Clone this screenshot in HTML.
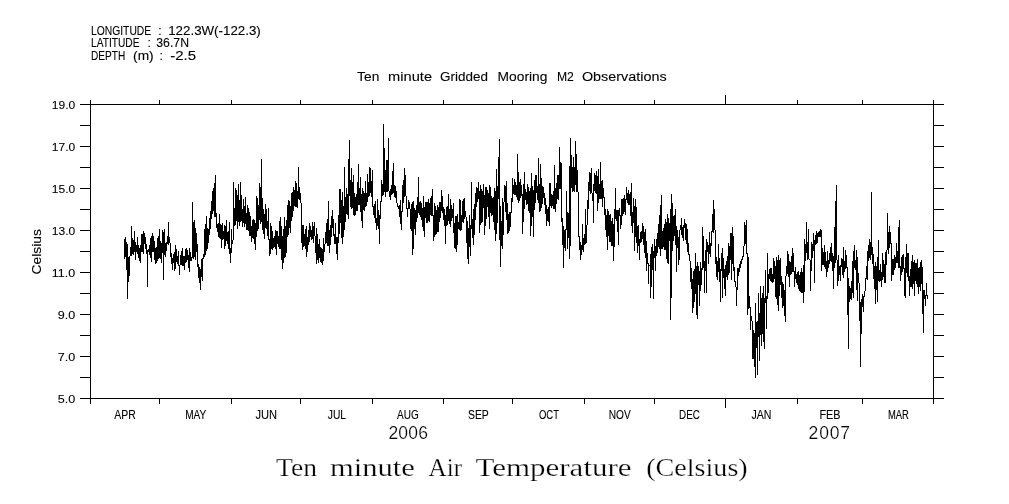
<!DOCTYPE html>
<html><head><meta charset="utf-8"><title>Ten minute Air Temperature (Celsius)</title>
<style>
html,body{margin:0;padding:0;background:#fff;}
svg{display:block;}
text{font-family:"Liberation Sans",sans-serif;fill:#000;white-space:pre;}
.ax,.mo,.hd,.tt,.yl{stroke:#000;stroke-width:0.1px;}
.ax{font-size:11.6px;}
.mo{font-size:12.2px;}
.hd{font-size:12px;}
.tt{font-size:13.7px;}
.yl{font-size:13.6px;}
.yr{font-size:17.5px;stroke:#fff;stroke-width:0.2px;}
.big{font-family:"Liberation Serif",serif;font-size:25.2px;stroke:#fff;stroke-width:0.25px;}
</style></head>
<body>
<svg width="1009" height="504" viewBox="0 0 1009 504">
<rect width="1009" height="504" fill="#fff"/>
<g fill="none" stroke="#000" stroke-width="1" shape-rendering="crispEdges">
<path d="M80 104.5H944M80 398.5H944M90.5 100V404M933.5 100V404M159.5 100V105M159.5 398V404M231.5 100V105M231.5 398V404M300.5 100V105M300.5 398V404M372.5 100V105M372.5 398V404M443.5 100V105M443.5 398V404M512.5 100V105M512.5 398V404M584.5 100V105M584.5 398V404M654.5 100V105M654.5 398V404M725.5 95V105M725.5 398V408M797.5 100V105M797.5 398V404M862.5 100V105M862.5 398V404M80 104.5H91M933 104.5H944M80 125.5H91M933 125.5H944M80 146.5H91M933 146.5H944M80 167.5H91M933 167.5H944M80 188.5H91M933 188.5H944M80 209.5H91M933 209.5H944M80 230.5H91M933 230.5H944M80 251.5H91M933 251.5H944M80 272.5H91M933 272.5H944M80 293.5H91M933 293.5H944M80 314.5H91M933 314.5H944M80 335.5H91M933 335.5H944M80 356.5H91M933 356.5H944M80 377.5H91M933 377.5H944M80 398.5H91M933 398.5H944"/>
<path transform="translate(0.5,0)" d="M124 239v20M125 237v20M126 242v28M127 244v55M128 257v25M129 256v20M130 247v9M131 226v30M132 238v16M133 240v15M134 231v21M135 242v18M136 245v7M137 237v17M138 245v13M139 248v13M140 245v18M141 234v18M142 234v18M143 231v23M144 233v11M145 237v12M146 244v10M147 250v37M148 249v3M149 245v10M150 238v20M151 236v26M152 233v19M153 236v16M154 241v19M155 248v16M156 247v16M157 238v23M158 236v23M159 229v29M160 241v18M161 243v20M162 230v23M163 232v48M164 229v26M165 243v14M166 242v9M167 236v8M168 222v23M169 237v6M170 243v14M171 253v11M172 258v12M173 254v9M174 252v19M175 245v24M176 249v13M177 256v8M178 251v15M179 265v10M180 255v10M181 251v14M182 248v18M183 256v10M184 256v14M185 249v14M186 248v14M187 250v10M188 255v13M189 248v24M190 252v9M191 257v4M192 202v56M193 222v37M194 220v37M195 228v32M196 233v19M197 244v23M198 264v14M199 267v16M200 269v21M201 259v18M202 258v23M203 254v5M204 229v28M205 224v31M206 216v35M207 228v21M208 229v14M209 218v17M210 211v18M211 201v18M212 191v23M213 188v23M214 183v34M215 175v42M216 213v15M217 224v8M218 223v14M219 214v24M220 224v15M221 225v23M222 223v17M223 231v8M224 225v24M225 226v20M226 220v21M227 232v12M228 231v18M229 222v32M230 248v15M231 229v24M232 240v4M233 182v58M234 208v18M235 188v37M236 190v31M237 195v34M238 184v38M239 200v26M240 182v40M241 195v26M242 209v18M243 199v24M244 206v21M245 197v27M246 213v17M247 205v25M248 208v23M249 212v24M250 216v20M251 226v16M252 220v18M253 219v20M254 220v24M255 223v27M256 196v41M257 198v33M258 205v24M259 183v37M260 187v37M261 159v63M262 198v32M263 209v25M264 214v25M265 204v24M266 209v20M267 221v15M268 208v32M269 239v17M270 223v31M271 226v23M272 231v19M273 238v10M274 236v11M275 230v19M276 231v24M277 231v13M278 236v11M279 221v28M280 217v32M281 226v34M282 236v33M283 229v34M284 217v41M285 226v31M286 220v33M287 205v32M288 200v35M289 201v27M290 206v27M291 193v28M292 192v25M293 187v24M294 190v16M295 181v26M296 183v24M297 191v17M298 167v32M299 187v13M300 193v10M301 203v40M302 225v25M303 225v22M304 234v12M305 229v20M306 226v31M307 237v15M308 230v15M309 223v19M310 226v11M311 230v10M312 222v17M313 226v17M314 222v14M315 236v17M316 228v36M317 234v26M318 244v19M319 239v19M320 247v15M321 248v15M322 249v16M323 238v23M324 244v8M325 232v12M326 223v20M327 219v27M328 201v45M329 230v23M330 225v20M331 216v21M332 210v18M333 219v17M334 234v10M335 223v21M336 237v17M337 237v23M338 215v28M339 189v45M340 189v34M341 200v38M342 192v52M343 206v31M344 167v63M345 197v25M346 188v26M347 194v21M348 159v60M349 140v56M350 180v27M351 168v41M352 182v26M353 175v40M354 193v23M355 197v18M356 194v17M357 182v29M358 164v41M359 188v17M360 177v35M361 194v27M362 188v40M363 191v19M364 193v18M365 181v26M366 193v13M367 174v28M368 182v15M369 167v29M370 168v25M371 181v16M372 170v37M373 206v9M374 204v14M375 201v22M376 218v12M377 199v27M378 210v19M379 215v29M380 201v18M381 180v22M382 184v12M383 124v71M384 148v44M385 170v27M386 160v32M387 160v32M388 138v53M389 191v6M390 189v11M391 185v10M392 171v23M393 163v30M394 185v12M395 186v12M396 191v12M397 203v4M398 206v3M399 205v12M400 200v24M401 211v19M402 185v27M403 180v23M404 168v29M405 175v21M406 196v13M407 208v9M408 200v9M409 202v7M410 209v20M411 204v27M412 202v53M413 201v48M414 208v21M415 210v25M416 205v17M417 197v21M418 177v36M419 202v13M420 201v16M421 203v17M422 208v19M423 196v35M424 207v30M425 202v16M426 202v21M427 202v21M428 199v22M429 203v19M430 198v17M431 196v20M432 189v27M433 215v26M434 203v34M435 206v29M436 210v24M437 205v27M438 207v25M439 202v20M440 202v16M441 190v21M442 196v17M443 207v13M444 209v17M445 215v29M446 207v19M447 206v19M448 194v27M449 209v15M450 199v28M451 205v16M452 209v9M453 203v30M454 223v25M455 216v33M456 216v36M457 214v31M458 222v7M459 199v31M460 200v31M461 215v15M462 201v21M463 199v24M464 198v21M465 211v6M466 217v26M467 221v38M468 228v36M469 215v32M470 225v31M471 182v47M472 219v19M473 209v36M474 204v31M475 193v27M476 187v20M477 188v14M478 182v17M479 191v42M480 185v40M481 189v34M482 191v31M483 184v24M484 195v40M485 187v39M486 187v32M487 190v17M488 193v24M489 185v44M490 187v26M491 196v20M492 198v17M493 197v25M494 188v42M495 191v50M496 169v65M497 186v37M498 157v42M499 139v101M500 206v61M501 221v25M502 198v51M503 202v33M504 185v17M505 186v26M506 181v39M507 203v31M508 214v19M509 212v19M510 212v15M511 198v15M512 178v24M513 185v9M514 179v16M515 182v13M516 185v12M517 154v46M518 172v31M519 182v19M520 179v19M521 185v11M522 194v40M523 184v38M524 172v37M525 189v11M526 192v13M527 184v20M528 187v24M529 191v22M530 188v48M531 173v53M532 186v31M533 190v47M534 180v30M535 175v28M536 175v18M537 186v14M538 158v45M539 184v28M540 164v47M541 178v30M542 186v18M543 187v11M544 193v12M545 198v16M546 205v21M547 209v12M548 207v15M549 183v43M550 183v23M551 194v14M552 195v11M553 191v18M554 165v44M555 188v24M556 183v21M557 175v24M558 175v25M559 147v42M560 162v27M561 163v59M562 218v27M563 226v42M564 230v18M565 229v22M566 191v39M567 212v37M568 213v25M569 166v93M570 138v108M571 155v33M572 167v25M573 157v34M574 167v25M575 141v44M576 154v38M577 170v22M578 192v45M579 236v14M580 242v18M581 245v10M582 224v26M583 238v14M584 234v11M585 209v35M586 225v18M587 200v25M588 182v27M589 172v19M590 173v21M591 168v25M592 193v8M593 184v39M594 173v18M595 175v18M596 171v23M597 176v35M598 169v34M599 184v15M600 162v37M601 181v18M602 180v27M603 188v10M604 197v18M605 209v21M606 215v22M607 209v41M608 211v25M609 215v27M610 214v28M611 221v25M612 218v28M613 224v37M614 209v38M615 188v31M616 210v11M617 210v22M618 210v35M619 208v8M620 215v14M621 199v26M622 199v17M623 198v16M624 195v17M625 199v16M626 187v13M627 193v10M628 190v15M629 194v11M630 192v24M631 183v43M632 212v21M633 198v25M634 206v45M635 199v38M636 207v36M637 226v27M638 225v21M639 239v21M640 232v11M641 231v11M642 223v16M643 226v19M644 232v21M645 229v29M646 241v30M647 253v11M648 263v21M649 265v1M650 254v44M651 247v40M652 244v26M653 251v48M654 239v19M655 246v25M656 239v17M657 233v20M658 224v23M659 215v34M660 205v51M661 195v54M662 231v18M663 228v19M664 224v26M665 219v31M666 222v37M667 214v49M668 218v46M669 223v18M670 209v111M671 194v104M672 203v48M673 216v25M674 215v21M675 209v36M676 226v46M677 230v18M678 237v28M679 230v30M680 225v5M681 218v17M682 227v11M683 225v16M684 219v9M685 223v17M686 224v20M687 229v23M688 243v12M689 254v7M690 261v21M691 268v21M692 279v34M693 271v37M694 269v33M695 253v41M696 266v49M697 262v57M698 266v19M699 271v35M700 262v29M701 268v17M702 227v43M703 236v32M704 261v32M705 250v21M706 239v54M707 242v10M708 245v19M709 232v22M710 243v14M711 231v15M712 214v18M713 200v33M714 209v21M715 230v34M716 257v20M717 261v19M718 244v28M719 258v24M720 269v33M721 253v18M722 248v50M723 258v20M724 269v20M725 265v31M726 261v16M727 256v24M728 243v32M729 246v27M730 233v27M731 233v47M732 227v37M733 236v35M734 267v15M735 281v6M736 287v19M737 268v22M738 268v8M739 264v8M740 261v7M741 259v5M742 256v4M743 246v11M744 222v24M745 225v19M746 220v34M747 253v62M748 257v52M749 296v12M750 307v23M751 316v5M752 321v38M753 330v29M754 333v34M755 303v75M756 322v26M757 321v54M758 293v44M759 313v48M760 286v49M761 298v48M762 293v41M763 286v56M764 298v51M765 270v33M766 296v33M767 253v46M768 274v19M769 269v10M770 268v13M771 268v14M772 274v9M773 258v24M774 261v18M775 266v31M776 257v42M777 260v45M778 255v56M779 260v36M780 258v27M781 276v22M782 282v26M783 284v22M784 290v26M785 276v46M786 266v10M787 251v23M788 254v23M789 261v26M790 262v13M791 256v18M792 248v24M793 253v19M794 271v16M795 267v12M796 274v9M797 272v13M798 271v18M799 275v16M800 272v20M801 268v25M802 272v21M803 265v38M804 239v53M805 244v17M806 222v31M807 242v18M808 229v30M809 259v1M810 260v31M811 242v29M812 244v14M813 233v18M814 240v43M815 235v10M816 231v13M817 233v10M818 232v5M819 231v6M820 229v8M821 230v41M822 248v17M823 252v13M824 245v22M825 252v17M826 261v16M827 251v21M828 260v8M829 253v11M830 247v14M831 243v19M832 253v18M833 256v33M834 227v41M835 201v62M836 185v75M837 260v26M838 255v26M839 266v9M840 265v16M841 258v9M842 259v16M843 247v31M844 261v11M845 250v19M846 255v13M847 267v48M848 278v71M849 286v16M850 288v11M851 281v19M852 261v32M853 251v47M854 245v23M855 260v10M856 250v40M857 257v44M858 273v10M859 283v38M860 302v65M861 299v35M862 294v13M863 296v16M864 291v6M865 278v13M866 266v13M867 251v29M868 245v16M869 239v19M870 242v18M871 192v63M872 247v17M873 254v25M874 266v23M875 262v42M876 266v24M877 257v45M878 240v41M879 270v12M880 264v17M881 272v15M882 253v27M883 260v17M884 264v19M885 252v31M886 250v15M887 213v37M888 232v22M889 226v22M890 232v12M891 243v38M892 259v16M893 259v16M894 255v15M895 257v11M896 243v20M897 251v12M898 227v41M899 220v48M900 266v15M901 257v18M902 255v17M903 254v15M904 268v28M905 257v41M906 244v29M907 253v24M908 253v28M909 276v20M910 269v18M911 261v26M912 255v34M913 262v22M914 260v36M915 263v18M916 263v21M917 259v28M918 268v26M919 267v20M920 262v29M921 260v24M922 267v47M923 290v43M924 290v9M925 295v11M926 283v13M927 295v4"/>
</g>
<text y="35" class="hd"><tspan x="91" textLength="60.2" lengthAdjust="spacingAndGlyphs">LONGITUDE</tspan><tspan x="158.2" textLength="3.4" lengthAdjust="spacingAndGlyphs">:</tspan><tspan x="168.2" textLength="92.6" lengthAdjust="spacingAndGlyphs">122.3W(-122.3)</tspan></text>
<text y="47.4" class="hd"><tspan x="91" textLength="48.5" lengthAdjust="spacingAndGlyphs">LATITUDE</tspan><tspan x="147.4" textLength="3.4" lengthAdjust="spacingAndGlyphs">:</tspan><tspan x="156.3" textLength="32.7" lengthAdjust="spacingAndGlyphs">36.7N</tspan></text>
<text y="59.9" class="hd"><tspan x="91" textLength="34.2" lengthAdjust="spacingAndGlyphs">DEPTH</tspan><tspan x="133.1" textLength="20.6" lengthAdjust="spacingAndGlyphs">(m)</tspan><tspan x="159.4" textLength="3.4" lengthAdjust="spacingAndGlyphs">:</tspan><tspan x="170.2" textLength="25.8" lengthAdjust="spacingAndGlyphs">-2.5</tspan></text>
<text y="80.6" class="tt"><tspan x="357.1" textLength="22.2" lengthAdjust="spacingAndGlyphs">Ten</tspan><tspan x="388.1" textLength="44" lengthAdjust="spacingAndGlyphs">minute</tspan><tspan x="440.1" textLength="47.9" lengthAdjust="spacingAndGlyphs">Gridded</tspan><tspan x="497.6" textLength="49.8" lengthAdjust="spacingAndGlyphs">Mooring</tspan><tspan x="556.9" textLength="16.9" lengthAdjust="spacingAndGlyphs">M2</tspan><tspan x="581.9" textLength="84.7" lengthAdjust="spacingAndGlyphs">Observations</tspan></text>
<text x="51.8" y="109" class="ax" textLength="23.4" lengthAdjust="spacingAndGlyphs">19.0</text><text x="51.8" y="151" class="ax" textLength="23.4" lengthAdjust="spacingAndGlyphs">17.0</text><text x="51.8" y="193" class="ax" textLength="23.4" lengthAdjust="spacingAndGlyphs">15.0</text><text x="51.8" y="235" class="ax" textLength="23.4" lengthAdjust="spacingAndGlyphs">13.0</text><text x="51.8" y="277" class="ax" textLength="23.4" lengthAdjust="spacingAndGlyphs">11.0</text><text x="57.7" y="319" class="ax" textLength="17.5" lengthAdjust="spacingAndGlyphs">9.0</text><text x="57.7" y="361" class="ax" textLength="17.5" lengthAdjust="spacingAndGlyphs">7.0</text><text x="57.7" y="403" class="ax" textLength="17.5" lengthAdjust="spacingAndGlyphs">5.0</text>
<text x="114.2" y="418.9" class="mo" textLength="21.5" lengthAdjust="spacingAndGlyphs">APR</text><text x="185.2" y="418.9" class="mo" textLength="21.1" lengthAdjust="spacingAndGlyphs">MAY</text><text x="255.4" y="418.9" class="mo" textLength="21.6" lengthAdjust="spacingAndGlyphs">JUN</text><text x="327.8" y="418.9" class="mo" textLength="18.3" lengthAdjust="spacingAndGlyphs">JUL</text><text x="397.1" y="418.9" class="mo" textLength="21.7" lengthAdjust="spacingAndGlyphs">AUG</text><text x="468.0" y="418.9" class="mo" textLength="20.8" lengthAdjust="spacingAndGlyphs">SEP</text><text x="539.0" y="418.9" class="mo" textLength="20" lengthAdjust="spacingAndGlyphs">OCT</text><text x="608.7" y="418.9" class="mo" textLength="22" lengthAdjust="spacingAndGlyphs">NOV</text><text x="679.1" y="418.9" class="mo" textLength="20.7" lengthAdjust="spacingAndGlyphs">DEC</text><text x="751.5" y="418.9" class="mo" textLength="20" lengthAdjust="spacingAndGlyphs">JAN</text><text x="819.5" y="418.9" class="mo" textLength="21" lengthAdjust="spacingAndGlyphs">FEB</text><text x="888.0" y="418.9" class="mo" textLength="20.9" lengthAdjust="spacingAndGlyphs">MAR</text>
<text x="388.4" y="439.2" class="yr" textLength="39.6" lengthAdjust="spacing">2006</text>
<text x="808.6" y="439.2" class="yr" textLength="41.4" lengthAdjust="spacing">2007</text>
<text transform="translate(41.3,274.4) rotate(-90)" class="yl" textLength="45.3" lengthAdjust="spacingAndGlyphs">Celsius</text>
<text y="476" class="big"><tspan x="276" textLength="41" lengthAdjust="spacingAndGlyphs">Ten</tspan><tspan x="329.9" textLength="85" lengthAdjust="spacingAndGlyphs">minute</tspan><tspan x="428.6" textLength="33.4" lengthAdjust="spacingAndGlyphs">Air</tspan><tspan x="475.4" textLength="156.2" lengthAdjust="spacingAndGlyphs">Temperature</tspan><tspan x="646.2" textLength="101.5" lengthAdjust="spacingAndGlyphs">(Celsius)</tspan></text>
</svg>
</body></html>
